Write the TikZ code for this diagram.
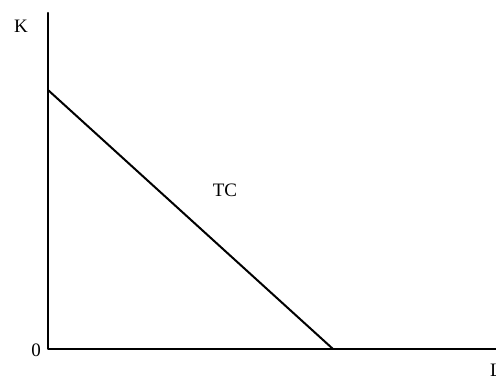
\documentclass[tikz,border=0pt]{standalone}
\usepackage{fontspec}
\setmainfont{Liberation Serif}
\begin{document}
\begin{tikzpicture}[x=1pt, y=-1pt, line cap=round, line join=round]
    \useasboundingbox (0,0) rectangle (496,378);
    \tikzset{axis/.style={line width=2.4pt}, lbl/.style={font=\fontsize{19}{22}\selectfont, inner sep=0pt}}
    \coordinate (O) at (48,349);
    \coordinate (ytop) at (48,13);
    \coordinate (xend) at (500,349);
    \coordinate (kint) at (48,90);
    \coordinate (lint) at (333,349);
    \draw[axis] (ytop) -- (O) -- (xend);
    \draw[line width=2pt] (kint) -- (lint);
    \node[lbl] (klab) at (21,26) {K};
    \node[lbl] (zlab) at (36,350) {0};
    \node[lbl, anchor=west] (llab) at (490,370) {L};
    \node[lbl] (tclab) at (225,190) {TC};
  \end{tikzpicture}
\end{document}
